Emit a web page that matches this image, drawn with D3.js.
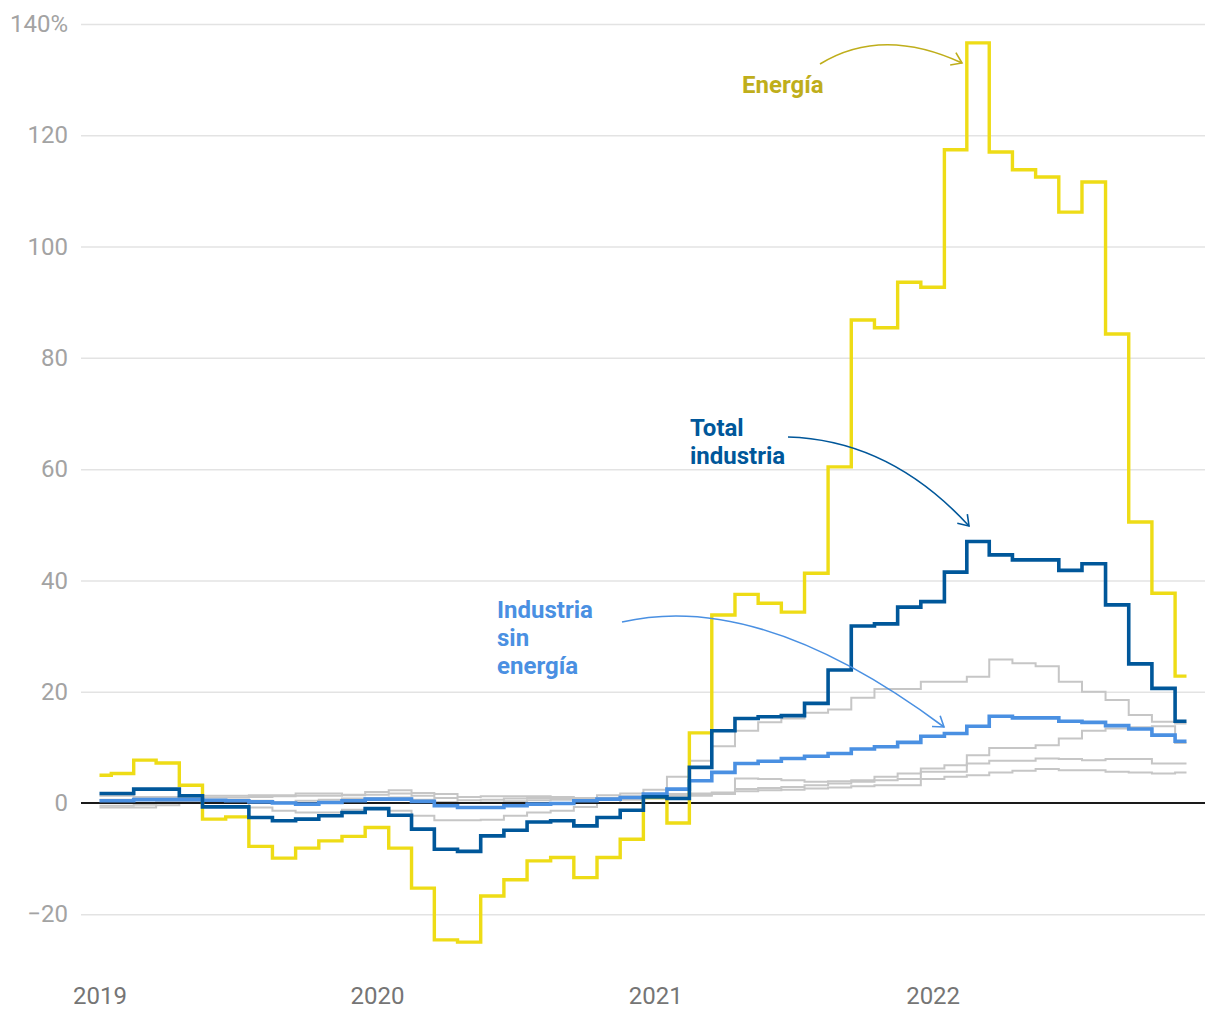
<!DOCTYPE html>
<html><head><meta charset="utf-8">
<script src="https://cdn.jsdelivr.net/npm/d3@7"></script>
<style>
body{margin:0;background:#fff}
svg{display:block}
text{font-family:Roboto,"Open Sans",sans-serif}
</style>
</head><body>
<svg id="chart" width="1220" height="1020"></svg>
<script>
// ---------- DATA ----------
const months = [
 "2019-01","2019-02","2019-03","2019-04","2019-05","2019-06","2019-07","2019-08","2019-09","2019-10","2019-11","2019-12",
 "2020-01","2020-02","2020-03","2020-04","2020-05","2020-06","2020-07","2020-08","2020-09","2020-10","2020-11","2020-12",
 "2021-01","2021-02","2021-03","2021-04","2021-05","2021-06","2021-07","2021-08","2021-09","2021-10","2021-11","2021-12",
 "2022-01","2022-02","2022-03","2022-04","2022-05","2022-06","2022-07","2022-08","2022-09","2022-10","2022-11","2022-12"];

const energia = [
 5.0, 5.3, 7.7, 7.2, 3.2, -2.9, -2.5, -7.8, -9.9, -8.1, -6.8, -6.0,
 -4.4, -8.1, -15.3, -24.6, -25.0, -16.7, -13.8, -10.4, -9.8, -13.4, -9.8, -6.5,
 1.0, -3.6, 12.6, 33.8, 37.5, 35.9, 34.3, 41.3, 60.4, 86.8, 85.4, 93.6,
 92.7, 117.4, 136.6, 117.0, 113.8, 112.5, 106.2, 111.6, 84.3, 50.5, 37.7, 22.8];

const totalIndustria = [
 1.7, 1.7, 2.5, 2.5, 1.3, -0.7, -0.7, -2.6, -3.2, -2.9, -2.3, -1.7,
 -1.0, -2.2, -4.7, -8.3, -8.7, -5.9, -4.9, -3.4, -3.2, -4.1, -2.6, -1.3,
 1.1, 0.8, 6.4, 13.0, 15.2, 15.5, 15.7, 17.9, 23.9, 31.8, 32.2, 35.2,
 36.2, 41.5, 47.0, 44.6, 43.7, 43.7, 41.8, 43.0, 35.6, 25.0, 20.6, 14.7];

const sinEnergia = [
 0.4, 0.4, 0.6, 0.6, 0.6, 0.5, 0.4, 0.2, 0.0, -0.2, 0.1, 0.4,
 0.7, 0.7, 0.3, -0.5, -0.8, -0.8, -0.5, -0.2, -0.1, 0.4, 0.7, 1.0,
 1.6, 2.5, 4.0, 5.5, 7.1, 7.5, 8.0, 8.4, 8.9, 9.7, 10.1, 10.9,
 12.0, 12.5, 13.8, 15.6, 15.3, 15.3, 14.7, 14.5, 13.9, 13.3, 12.2, 11.1];

const gris1 = [
 -0.8, -0.8, -0.8, -0.4, 0.2, 0.4, 0.5, -0.8, -1.4, -1.7, -1.7, -1.2,
 -1.0, -1.4, -2.3, -3.1, -3.1, -3.0, -2.3, -1.7, -1.4, -0.7, 0.0, 0.6,
 2.4, 4.7, 7.6, 10.2, 13.0, 14.5, 15.2, 16.2, 16.8, 18.9, 20.5, 20.5,
 21.8, 21.8, 22.7, 25.8, 25.1, 24.6, 21.8, 20.0, 18.5, 15.8, 14.6, 14.3];

const gris2 = [
 1.3, 1.3, 1.1, 1.1, 1.2, 1.3, 1.3, 1.4, 1.4, 1.7, 1.7, 1.5,
 2.0, 2.3, 1.8, 1.6, 1.1, 1.2, 1.2, 1.2, 1.1, 0.9, 1.4, 1.7,
 1.0, 1.3, 1.3, 1.6, 2.1, 2.3, 2.4, 2.6, 2.8, 3.0, 3.2, 3.2,
 6.2, 6.8, 8.6, 9.9, 9.9, 10.4, 11.6, 13.0, 13.4, 13.6, 13.8, 10.8];

const gris3 = [
 0.6, 0.6, 0.8, 0.8, 0.9, 1.0, 1.0, 1.1, 1.2, 1.3, 1.3, 1.4,
 1.5, 1.7, 1.3, 0.9, 0.5, 0.6, 0.8, 0.9, 0.8, 0.7, 0.9, 1.2,
 1.3, 1.6, 1.7, 1.9, 4.4, 4.3, 4.1, 3.8, 3.9, 4.1, 4.7, 5.3,
 5.6, 5.6, 7.1, 7.6, 7.6, 8.0, 7.9, 7.7, 7.9, 7.9, 7.1, 7.1];

const gris4 = [
 -0.5, -0.5, -0.3, 0.2, 0.5, 0.6, 0.6, 0.4, 0.2, 0.4, 0.6, 0.8,
 0.9, 1.0, 0.6, 0.2, 0.0, 0.1, 0.3, 0.5, 0.6, 0.6, 0.7, 0.9,
 0.8, 1.2, 1.5, 1.7, 2.5, 2.7, 2.9, 3.2, 3.5, 3.8, 4.1, 4.3,
 4.3, 4.7, 5.0, 5.5, 5.8, 6.1, 5.9, 5.9, 5.6, 5.5, 5.3, 5.5];

const yTicks = [-20, 0, 20, 40, 60, 80, 100, 120, 140];
const xTickYears = ["2019", "2020", "2021", "2022"];

// ---------- CHART ----------
const svg = d3.select("#chart");
const parseMonth = d3.utcParse("%Y-%m");
const dates = months.map(parseMonth);

const gridLeft = 81, gridRight = 1205;
const x = d3.scaleUtc()
  .domain([dates[0], dates[dates.length - 1]])
  .range([99.5, 1186.5]);
const y = d3.scaleLinear().domain([-20, 140]).range([914.3, 24]);

// y axis + gridlines
const yAxis = d3.axisLeft(y)
  .tickValues(yTicks)
  .tickSize(-(gridRight - gridLeft))
  .tickPadding(13)
  .tickFormat(d => d === 140 ? "140%" : (d < 0 ? "\u2212" + Math.abs(d) : String(d)));
const gy = svg.append("g").attr("transform", `translate(${gridLeft},0)`).call(yAxis);
gy.select(".domain").remove();
gy.selectAll(".tick line").attr("stroke", "#e3e3e3").attr("stroke-width", 1.5)
  .filter(d => d === 0).attr("stroke", "none");
gy.selectAll(".tick text").attr("fill", "#a3a3a3").attr("font-size", 24)
  .attr("font-family", "Roboto, sans-serif");

// x axis
const xAxis = d3.axisBottom(x)
  .tickValues(xTickYears.map(d3.utcParse("%Y")))
  .tickFormat(d3.utcFormat("%Y"))
  .tickSize(0).tickPadding(5);
const gx = svg.append("g").attr("transform", "translate(0,982)").call(xAxis);
gx.select(".domain").remove();
gx.selectAll(".tick text").attr("fill", "#757575").attr("font-size", 24)
  .attr("font-family", "Roboto, sans-serif");

const line = d3.line()
  .x((d, i) => x(dates[i]))
  .y(d => y(d))
  .curve(d3.curveStep);

// gray series
[gris1, gris2, gris3, gris4].forEach(s => {
  svg.append("path").datum(s).attr("d", line)
    .attr("fill", "none").attr("stroke", "#c6c6c6").attr("stroke-width", 2);
});

// zero line
svg.append("line")
  .attr("x1", gridLeft).attr("x2", gridRight)
  .attr("y1", y(0)).attr("y2", y(0))
  .attr("stroke", "#1a1a1a").attr("stroke-width", 2);

const series = [
  {data: energia, color: "#eedc16", w: 3.4},
  {data: sinEnergia, color: "#4a90e2", w: 3.6},
  {data: totalIndustria, color: "#00579a", w: 3.6}
];
series.forEach(s => {
  svg.append("path").datum(s.data).attr("d", line)
    .attr("fill", "none").attr("stroke", s.color)
    .attr("stroke-width", s.w).attr("stroke-linejoin", "miter");
});

// ---------- ANNOTATIONS ----------
function arrow(p0, p1, p2, color) {
  const p = d3.path();
  p.moveTo(p0[0], p0[1]);
  p.quadraticCurveTo(p1[0], p1[1], p2[0], p2[1]);
  svg.append("path").attr("d", p.toString()).attr("fill", "none")
    .attr("stroke", color).attr("stroke-width", 1.6);
  const ang = Math.atan2(p2[1] - p1[1], p2[0] - p1[0]);
  const L = 12, a = Math.PI / 5.2;
  const h = d3.path();
  h.moveTo(p2[0] - L * Math.cos(ang - a), p2[1] - L * Math.sin(ang - a));
  h.lineTo(p2[0], p2[1]);
  h.lineTo(p2[0] - L * Math.cos(ang + a), p2[1] - L * Math.sin(ang + a));
  svg.append("path").attr("d", h.toString()).attr("fill", "none")
    .attr("stroke", color).attr("stroke-width", 1.6)
    .attr("stroke-linejoin", "miter");
}

function label(lines, x0, y0, color) {
  const t = svg.append("text").attr("x", x0).attr("y", y0)
    .attr("fill", color).attr("font-size", 24).attr("font-weight", 700);
  lines.forEach((l, i) => {
    t.append("tspan").attr("x", x0).attr("dy", i === 0 ? 0 : 28).text(l);
  });
}

const olive = "#bfae1b";
label(["Energía"], 742, 93, olive);
arrow([820, 64], [882, 26], [962, 63], olive);

label(["Total", "industria"], 690, 436, "#00579a");
arrow([788, 437], [890, 440], [969, 526], "#00579a");

label(["Industria", "sin", "energía"], 497, 618, "#4a90e2");
arrow([622, 622], [760, 590], [944, 727], "#4a90e2");
</script>
</body></html>
